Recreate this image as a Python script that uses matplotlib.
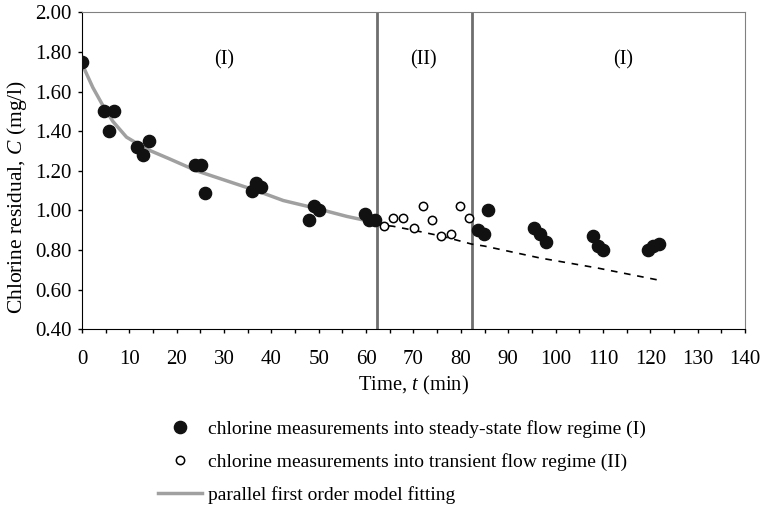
import numpy as np
import matplotlib
matplotlib.use("Agg")
import matplotlib.pyplot as plt
from matplotlib.lines import Line2D
from matplotlib.ticker import MultipleLocator, FormatStrFormatter

plt.rcParams['font.family'] = ['Liberation Serif', 'DejaVu Serif']
plt.rcParams['mathtext.fontset'] = 'custom'
plt.rcParams['mathtext.rm'] = 'Liberation Serif'
plt.rcParams['mathtext.it'] = 'Liberation Serif:italic'

# steady-state measurements (I)
t_steady = [0.0, 4.7, 5.7, 6.8, 11.7, 12.8, 14.1, 23.8, 25.1, 25.9, 35.8, 36.8, 37.9,
            48.0, 49.0, 50.1, 59.7, 60.6, 61.8,
            83.7, 84.9, 85.8, 95.5, 96.7, 98.0, 108.0, 109.0, 110.1, 119.6, 120.6, 121.9]
c_steady = [1.75, 1.50, 1.40, 1.50, 1.32, 1.28, 1.35, 1.23, 1.23, 1.09, 1.10, 1.14, 1.12,
            0.95, 1.02, 1.00, 0.98, 0.95, 0.95,
            0.90, 0.88, 1.00, 0.91, 0.88, 0.84, 0.87, 0.82, 0.80, 0.80, 0.82, 0.83]

# transient measurements (II)
t_trans = [63.7, 65.7, 67.7, 70.1, 72.0, 73.9, 75.9, 77.9, 79.8, 81.8]
c_trans = [0.92, 0.96, 0.96, 0.91, 1.02, 0.95, 0.87, 0.88, 1.02, 0.96]

# parallel first order model fitting
t_fit = [0.0, 2.3, 4.4, 6.5, 9.4, 13.6, 18.5, 24.2, 30.5, 36.8, 42.5, 49.5, 55.9, 61.8]
c_fit = [1.74, 1.62, 1.53, 1.45, 1.37, 1.31, 1.26, 1.20, 1.15, 1.10, 1.05, 1.01, 0.97, 0.94]

# model prediction (dashed)
t_pred = [62.0, 65.7, 70.0, 76.0, 82.3, 85.0, 96.7, 108.7, 121.4]
c_pred = [0.93, 0.92, 0.90, 0.87, 0.83, 0.82, 0.76, 0.71, 0.65]

regime_bounds = [62.3, 82.3]
regime_labels = ["(I)", "(II)", "(I)"]
regime_label_t = [30.1, 72.0, 114.3]

fig = plt.figure(figsize=(7.62, 5.07), dpi=100)
ax = fig.add_axes([0.1076, 0.3505, 0.8701, 0.6252])

ax.plot(t_fit, c_fit, color='#a0a0a0', lw=2.5, zorder=2)
ax.plot(t_pred, c_pred, color='black', lw=1.2, ls=(0, (4, 4)), zorder=2)
for b in regime_bounds:
    ax.axvline(b, color='#6e6e6e', lw=2.0, zorder=1)
ax.plot(t_steady, c_steady, 'o', color='#111111', ms=8.8, zorder=3)
ax.plot(t_trans, c_trans, 'o', mfc='white', mec='black', mew=1.1, ms=6, zorder=3)

for t, lab in zip(regime_label_t, regime_labels):
    ax.text(t, 1.76, lab, ha='center', va='center', fontsize=14.5)

ax.set_xlim(0, 140)
ax.set_ylim(0.40, 2.00)
ax.xaxis.set_major_locator(MultipleLocator(10))
ax.xaxis.set_minor_locator(MultipleLocator(5))
ax.yaxis.set_major_locator(MultipleLocator(0.2))
ax.yaxis.set_major_formatter(FormatStrFormatter('%.2f'))
ax.tick_params(axis='both', which='both', direction='out', length=3.2, width=1, labelsize=15, pad=4)
ax.tick_params(axis='x', which='both', pad=12)
ax.tick_params(axis='y', which='minor', length=0)
ax.spines['top'].set_color('#808080')
ax.spines['right'].set_color('#808080')
ax.set_xlabel('Time, $t$ (min)', fontsize=14.8, labelpad=3)
ax.set_ylabel('Chlorine residual, $C$ (mg/l)', fontsize=15.5)
ax.yaxis.set_label_coords(-0.080, 0.417)

handles = [
    Line2D([], [], ls='none', marker='o', color='#111111', ms=8.8),
    Line2D([], [], ls='none', marker='o', mfc='white', mec='black', mew=1.1, ms=6),
    Line2D([], [], color='#a0a0a0', lw=2.5),
]
labels = [
    'chlorine measurements into steady-state flow regime (I)',
    'chlorine measurements into transient flow regime (II)',
    'parallel first order model fitting',
]
fig.legend(handles, labels, loc='upper left', bbox_to_anchor=(0.2073, 0.172),
           frameon=False, fontsize=14, handlelength=2.27, handletextpad=0.3,
           labelspacing=0.78, borderpad=0, borderaxespad=0)

fig.savefig('out.png', dpi=100)
